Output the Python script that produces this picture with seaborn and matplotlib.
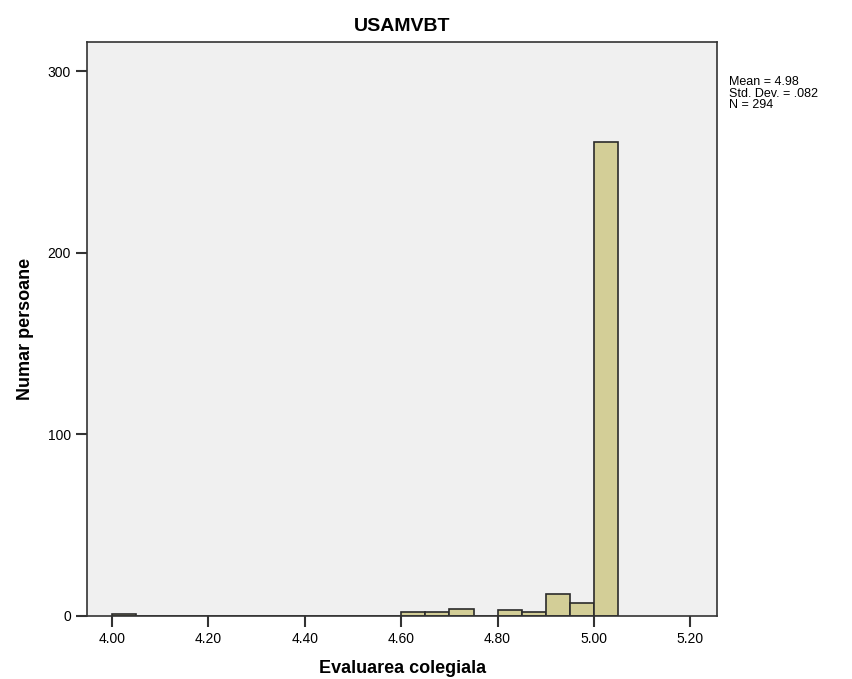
import numpy as np
import pandas as pd
import seaborn as sns
import matplotlib.pyplot as plt

# valori citite din histograma
bin_left = [4.00, 4.60, 4.65, 4.70, 4.80, 4.85, 4.90, 4.95, 5.00]
counts = [1, 2, 2, 4, 3, 2, 12, 7, 261]
bin_width = 0.05
x_ticks = [4.00, 4.20, 4.40, 4.60, 4.80, 5.00, 5.20]
y_ticks = [0, 100, 200, 300]

sns.set_style('ticks')
plt.rcParams['font.family'] = ['Liberation Sans', 'DejaVu Sans']
plt.rcParams['text.color'] = 'black'
plt.rcParams['axes.labelcolor'] = 'black'
plt.rcParams['xtick.labelcolor'] = 'black'
plt.rcParams['ytick.labelcolor'] = 'black'

fig = plt.figure(figsize=(8.53, 6.79), dpi=100)
ax = fig.add_axes([0.102, 0.093, 0.739, 0.845])

df = pd.DataFrame({'val': [b + bin_width / 2 for b in bin_left], 'n': counts})
edges = [round(4.00 + i * bin_width, 2) for i in range(22)]
sns.histplot(data=df, x='val', weights='n', bins=edges, ax=ax,
             color='#D3CE97', edgecolor='#2b2b2b', linewidth=1.2, alpha=1)

ax.set_facecolor('#F0F0F0')
ax.set_xlim(3.948, 5.256)
ax.set_ylim(0, 316)
ax.set_xticks(x_ticks)
ax.set_xticklabels([f'{t:.2f}' for t in x_ticks], fontsize=10)
ax.set_yticks(y_ticks)
ax.set_yticklabels([str(t) for t in y_ticks], fontsize=10)
ax.tick_params(axis='both', direction='out', length=8, width=1.5, color='#333333')
for s in ax.spines.values():
    s.set_color('#333333')
    s.set_linewidth(1.2)

ax.set_title('USAMVBT', fontsize=14, fontweight='bold', pad=8)
ax.set_xlabel('Evaluarea colegiala', fontsize=13, fontweight='bold', labelpad=10)
ax.set_ylabel('Numar persoane', fontsize=13, fontweight='bold', labelpad=10)

fig.text(0.855, 0.888, 'Mean = 4.98\nStd. Dev. = .082\nN = 294',
         fontsize=9, va='top', ha='left', linespacing=0.95)

plt.savefig('out.png', dpi=100)
